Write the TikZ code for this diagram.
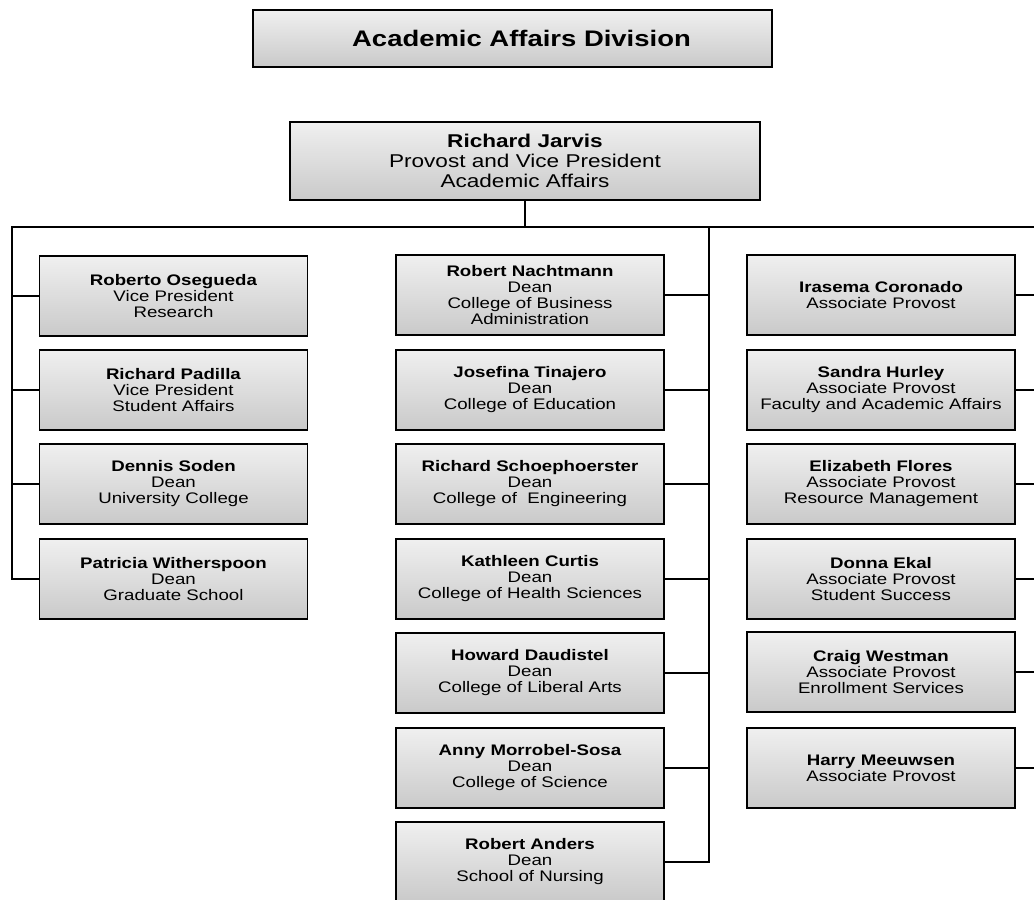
\documentclass[tikz,border=0pt]{standalone}
\usepackage{fontspec}
\setmainfont{Liberation Sans}[FakeStretch=1.22]
\begin{document}
\begin{tikzpicture}[x=1pt,y=-1pt,
  shadebox/.style={draw=black, line width=1.8pt, rectangle, inner sep=0pt,
    top color=gray!12, bottom color=gray!42, align=center},
  staff/.style={shadebox, minimum width=268pt, minimum height=80pt,
    font=\fontsize{15.3}{16}\selectfont},
  link/.style={line width=1.6pt, line cap=rect, line join=miter}]
\useasboundingbox[fill=white] (0,0) rectangle (1034,900);
\clip (0,0) rectangle (1034,900);

% heading and head of division
\node[shadebox, minimum width=519pt, minimum height=57pt,
      font=\fontsize{22.5}{24}\selectfont\bfseries] (title) at (512.5,38.5)
  {\hspace*{18pt}Academic Affairs Division};
\node[shadebox, minimum width=470pt, minimum height=78pt,
      font=\fontsize{18.5}{20}\selectfont] (J) at (525,161)
  {\textbf{Richard Jarvis}\\Provost and Vice President\\Academic Affairs};

% left column
\node[staff] (L1) at (173.5,296) {\textbf{Roberto Osegueda}\\Vice President\\Research};
\node[staff] (L2) at (173.5,390) {\textbf{Richard Padilla}\\Vice President\\Student Affairs};
\node[staff] (L3) at (173.5,484) {\textbf{Dennis Soden}\\Dean\\University College};
\node[staff] (L4) at (173.5,579) {\textbf{Patricia Witherspoon}\\Dean\\Graduate School};

% middle column
\node[staff] (M1) at (530,295) {\textbf{Robert Nachtmann}\\Dean\\College of Business\\Administration};
\node[staff] (M2) at (530,390) {\textbf{Josefina Tinajero}\\Dean\\College of Education};
\node[staff] (M3) at (530,484) {\textbf{Richard Schoephoerster}\\Dean\\College of \ Engineering};
\node[staff] (M4) at (530,579) {\textbf{Kathleen Curtis}\\Dean\\College of Health Sciences};
\node[staff] (M5) at (530,673) {\textbf{Howard Daudistel}\\Dean\\College of Liberal Arts};
\node[staff] (M6) at (530,768) {\textbf{Anny Morrobel-Sosa}\\Dean\\College of Science};
\node[staff] (M7) at (530,862) {\textbf{Robert Anders}\\Dean\\School of Nursing};

% right column
\node[staff] (R1) at (881,295) {\textbf{Irasema Coronado}\\Associate Provost};
\node[staff] (R2) at (881,390) {\textbf{Sandra Hurley}\\Associate Provost\\Faculty and Academic Affairs};
\node[staff] (R3) at (881,484) {\textbf{Elizabeth Flores}\\Associate Provost\\Resource Management};
\node[staff] (R4) at (881,579) {\textbf{Donna Ekal}\\Associate Provost\\Student Success};
\node[staff] (R5) at (881,672) {\textbf{Craig Westman}\\Associate Provost\\Enrollment Services};
\node[staff] (R6) at (881,768) {\textbf{Harry Meeuwsen}\\Associate Provost};

% trunk lines
\coordinate (lt) at (12,227);
\coordinate (mt) at (709,227);
\coordinate (rt) at (1040,227);

\draw[link] (J.south) -- (J.south |- lt);
\draw[link] (L4.west -| lt) -- (lt) -- (rt) -- (R6.east -| rt);
\draw[link] (mt) -- (M7.east -| mt);

\foreach \b in {L1,L2,L3,L4}
  \draw[link] (\b.west) -- (\b.west -| lt);
\foreach \b in {M1,M2,M3,M4,M5,M6,M7}
  \draw[link] (\b.east) -- (\b.east -| mt);
\foreach \b in {R1,R2,R3,R4,R5,R6}
  \draw[link] (\b.east) -- (\b.east -| rt);
\end{tikzpicture}
\end{document}
